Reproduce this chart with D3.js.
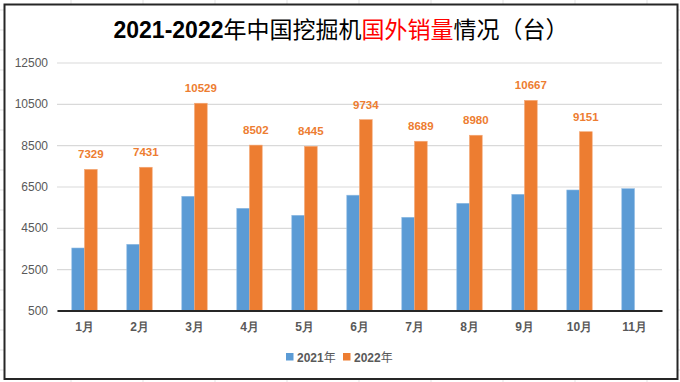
<!DOCTYPE html>
<html>
<head>
<meta charset="utf-8">
<script src="https://cdn.jsdelivr.net/npm/d3@7"></script>
<style>
html,body{margin:0;padding:0;background:#fff;}
svg{display:block;}
</style>
</head>
<body>
<svg id="chart" width="680" height="382"></svg>
<script>
const months = ["1月","2月","3月","4月","5月","6月","7月","8月","9月","10月","11月"];
const seriesNames = ["2021年","2022年"];
const sales2021 = [3524,3703,6026,5445,5106,6079,5010,5687,6122,6331,6394];
const sales2022 = [7329,7431,10529,8502,8445,9734,8689,8980,10667,9151,null];
const yTicks = [500,2500,4500,6500,8500,10500,12500];
const colors = ["#5B9BD5","#ED7D31"];

(function () {
const W = 680, H = 382;
const svg = d3.select("#chart");
const font = "'Liberation Sans', Arial, sans-serif";

// Excel sheet grid in the background
const bg = svg.append("g");
d3.range(71, W, 72).forEach(x => bg.append("line").attr("x1", x).attr("x2", x).attr("y1", 0).attr("y2", H).attr("stroke", "#e3e3e3").attr("stroke-width", 1));
d3.range(10, H, 20).forEach(yy => bg.append("line").attr("x1", 0).attr("x2", W).attr("y1", yy).attr("y2", yy).attr("stroke", "#e3e3e3").attr("stroke-width", 1));

// chart area
svg.append("rect").attr("x", 4.5).attr("y", 4.5).attr("width", 673).attr("height", 374.5)
  .attr("fill", "#fff").attr("stroke", "#262626").attr("stroke-width", 2);

// title
const title = svg.append("text").attr("x", 341).attr("y", 38).attr("text-anchor", "middle")
  .attr("font-size", 23).attr("fill", "#000").attr("font-family", "'Noto Sans CJK SC', sans-serif");
title.append("tspan").attr("font-weight", "bold").attr("font-family", "'Liberation Sans', Arial, sans-serif").text("2021-2022");
title.append("tspan").text("年中国挖掘机");
title.append("tspan").attr("fill", "#FF0000").text("国外销量");
title.append("tspan").text("情况（台）");

const pLeft = 57, pRight = 662, pTop = 62.5, pBottom = 310.5;
const x0 = d3.scaleBand().domain(months).range([pLeft, pRight]).paddingInner(0.538).paddingOuter(0.269);
const x1 = d3.scaleBand().domain(seriesNames).range([0, x0.bandwidth()]).padding(0);
const y = d3.scaleLinear().domain([500, 12500]).range([pBottom, pTop]);

// gridlines
const yAxis = d3.axisLeft(y).tickValues(yTicks).tickSize(-(pRight - pLeft)).tickPadding(9).tickFormat(d3.format("d"));
const gy = svg.append("g").attr("transform", `translate(${pLeft},0)`).call(yAxis);
gy.select(".domain").remove();
gy.selectAll(".tick line").attr("stroke", "#d9d9d9").attr("stroke-width", 1.2);
gy.selectAll(".tick text").attr("font-size", 12).attr("fill", "#595959").attr("font-family", font);

// bars
const data = months.map((m, i) => ({m, vals: [sales2021[i], sales2022[i]]}));
const groups = svg.append("g").selectAll("g").data(data).join("g")
  .attr("transform", d => `translate(${x0(d.m)},0)`);
groups.selectAll("rect").data(d => d.vals.map((v, k) => ({v, k})).filter(e => e.v != null)).join("rect")
  .attr("x", e => x1(seriesNames[e.k]))
  .attr("width", x1.bandwidth())
  .attr("y", e => y(e.v))
  .attr("height", e => y(500) - y(e.v))
  .attr("fill", e => colors[e.k])
  .attr("stroke", e => e.k === 0 ? "#8fbbe3" : "#f4a775")
  .attr("stroke-width", 0.6);

// data labels for 2022
groups.filter(d => d.vals[1] != null).append("text")
  .attr("x", x1(seriesNames[1]) + x1.bandwidth() / 2)
  .attr("y", d => y(d.vals[1]) - 11)
  .attr("text-anchor", "middle")
  .attr("font-size", 11.5).attr("font-weight", "bold").attr("fill", colors[1]).attr("font-family", font)
  .text(d => d.vals[1]);

// x axis
const xAxis = d3.axisBottom(x0).tickSize(0).tickPadding(10);
const gx = svg.append("g").attr("transform", `translate(0,${pBottom})`).call(xAxis);
gx.select(".domain").attr("stroke", "#262626").attr("stroke-width", 2);
gx.selectAll(".tick text").attr("font-size", 12).attr("font-weight", "bold").attr("fill", "#595959")
  .attr("font-family", font).attr("dy", "0.9em");

// legend
const legend = svg.append("g");
const legX = [286, 343];
seriesNames.forEach((s, k) => {
  legend.append("rect").attr("x", legX[k]).attr("y", 353).attr("width", 7.5).attr("height", 7.5).attr("fill", colors[k]);
  const t = legend.append("text").attr("x", legX[k] + 11).attr("y", 361.5).attr("font-size", 12).attr("fill", "#595959").attr("font-family", font);
  t.append("tspan").attr("font-weight", "bold").text(s.slice(0, 4));
  t.append("tspan").attr("font-family", "'Noto Sans CJK SC', sans-serif").text(s.slice(4));
});
})();
</script>
</body>
</html>
